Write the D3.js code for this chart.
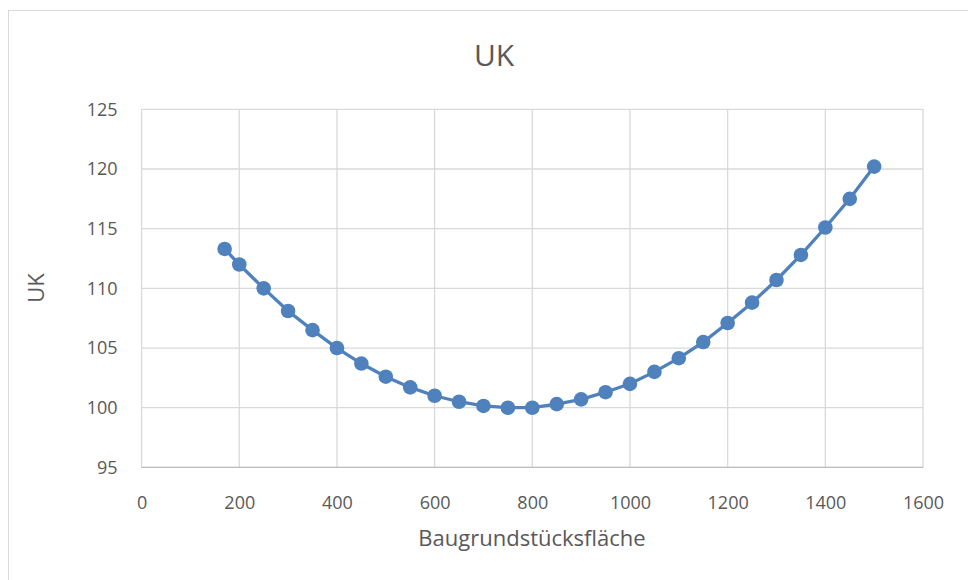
<!DOCTYPE html>
<html><head><meta charset="utf-8">
<script src="https://cdn.jsdelivr.net/npm/d3@7"></script>
<style>body{margin:0;background:#fff;} svg{display:block;}</style>
</head><body>
<svg id="c" width="968" height="580"></svg>
<script>
const xValues = [170,200,250,300,350,400,450,500,550,600,650,700,750,800,850,900,950,1000,1050,1100,1150,1200,1250,1300,1350,1400,1450,1500];
const ukValues = [113.3,112.0,110.0,108.1,106.5,105.0,103.7,102.6,101.7,101.0,100.5,100.15,100.0,100.0,100.3,100.7,101.3,102.0,103.0,104.15,105.5,107.1,108.8,110.7,112.8,115.1,117.5,120.2];
const xTicks = [0,200,400,600,800,1000,1200,1400,1600];
const yTicks = [95,100,105,110,115,120,125];
const title = "UK", xTitle = "Baugrundstücksfläche", yTitle = "UK";

const svg = d3.select("#c");
const font = "'Open Sans', 'Noto Sans', sans-serif";
const textCol = "#595959";
const L=141.6, R=923, T=109.3, B=467.4;
const x = d3.scaleLinear().domain([0,1600]).range([L,R]);
const y = d3.scaleLinear().domain([95,125]).range([B,T]);

// chart border
svg.append("rect").attr("x",8.5).attr("y",10.5).attr("width",980).attr("height",600)
  .attr("fill","#fff").attr("stroke","#d9d9d9").attr("stroke-width",1);

// grid
const g = svg.append("g");
g.selectAll(".gy").data(yTicks).join("line")
  .attr("x1",L).attr("x2",R).attr("y1",d=>y(d)).attr("y2",d=>y(d))
  .attr("stroke","#d9d9d9").attr("stroke-width",1.3);
g.selectAll(".gx").data(xTicks).join("line")
  .attr("y1",T).attr("y2",B).attr("x1",d=>x(d)).attr("x2",d=>x(d))
  .attr("stroke","#d9d9d9").attr("stroke-width",1.3);
g.append("line").attr("x1",L).attr("x2",R).attr("y1",B).attr("y2",B).attr("stroke","#bfbfbf").attr("stroke-width",1.3);

// axes labels via d3 axes
const ax = svg.append("g").attr("transform",`translate(0,${B})`)
  .call(d3.axisBottom(x).tickValues(xTicks).tickSize(0).tickPadding(29).tickFormat(d3.format("d")));
const ay = svg.append("g").attr("transform",`translate(${L},0)`)
  .call(d3.axisLeft(y).tickValues(yTicks).tickSize(0).tickPadding(24).tickFormat(d3.format("d")));
[ax,ay].forEach(a=>{a.select(".domain").remove();
  a.selectAll("text").attr("font-family",font).attr("font-size",18).attr("fill",textCol);});

// line + markers
svg.append("path").datum(xValues.map((d,i)=>[d,ukValues[i]]))
  .attr("d",d3.line().x(d=>x(d[0])).y(d=>y(d[1])))
  .attr("fill","none").attr("stroke","#4f81bd").attr("stroke-width",3.3);
svg.selectAll(".pt").data(xValues).join("circle")
  .attr("cx",d=>x(d)).attr("cy",(d,i)=>y(ukValues[i])).attr("r",7.3)
  .attr("fill","#4f81bd");

// titles
svg.append("text").attr("x",494).attr("y",66).attr("text-anchor","middle")
  .attr("font-family",font).attr("font-size",30).attr("fill",textCol).text(title);
svg.append("text").attr("x",532).attr("y",546).attr("text-anchor","middle")
  .attr("font-family",font).attr("font-size",22).attr("fill",textCol).text(xTitle);
svg.append("text").attr("transform","translate(44,288) rotate(-90)").attr("text-anchor","middle")
  .attr("font-family",font).attr("font-size",22).attr("fill",textCol).text(yTitle);
</script>
</body></html>
